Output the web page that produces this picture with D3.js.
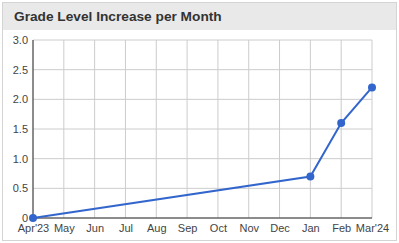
<!DOCTYPE html>
<html>
<head>
<meta charset="utf-8">
<script src="https://cdn.jsdelivr.net/npm/d3@7"></script>
<style>
  body { margin: 0; background: #fff; font-family: "Liberation Sans", Arial, sans-serif; }
  svg { display: block; }
</style>
</head>
<body>
<svg id="chart" width="399" height="243"></svg>
<script>
var title = "Grade Level Increase per Month";
var months = ["Apr'23", "May", "Jun", "Jul", "Aug", "Sep", "Oct", "Nov", "Dec", "Jan", "Feb", "Mar'24"];
var pointMonths = ["Apr'23", "Jan", "Feb", "Mar'24"];
var pointValues = [0, 0.7, 1.6, 2.2];
var yTicks = [0, 0.5, 1.0, 1.5, 2.0, 2.5, 3.0];

var svg = d3.select("#chart");
var margin = {top: 40, right: 27, bottom: 25, left: 33};
var w = 399 - margin.left - margin.right;
var h = 243 - margin.top - margin.bottom;

// panel + header
svg.append("rect").attr("x", 2.5).attr("y", 2.5).attr("width", 394).attr("height", 238)
   .attr("fill", "#fff").attr("stroke", "#d4d4d4");
svg.append("rect").attr("x", 3).attr("y", 3).attr("width", 393).attr("height", 27)
   .attr("fill", "#e9e9e9");
svg.append("text").attr("x", 14).attr("y", 21)
   .attr("font-size", 13.7).attr("font-weight", "bold").attr("fill", "#333")
   .text(title);

var x = d3.scalePoint().domain(months).range([0, w]);
var y = d3.scaleLinear().domain([0, 3]).range([h, 0]);

var g = svg.append("g").attr("transform", "translate(" + margin.left + "," + margin.top + ")");

// grid
g.selectAll(".vgrid").data(months).enter().append("line")
 .attr("x1", function(d) { return x(d); }).attr("x2", function(d) { return x(d); })
 .attr("y1", 0).attr("y2", h).attr("stroke", "#cccccc");
g.selectAll(".hgrid").data(yTicks).enter().append("line")
 .attr("x1", 0).attr("x2", w)
 .attr("y1", function(d) { return y(d); }).attr("y2", function(d) { return y(d); })
 .attr("stroke", "#cccccc");

// axes
var yAxis = g.append("g").call(d3.axisLeft(y).tickValues(yTicks).tickSize(0).tickPadding(5)
   .tickFormat(function(d) { return d === 0 ? "0" : d3.format(".1f")(d); }));
yAxis.select(".domain").remove();
yAxis.selectAll("text").attr("font-size", 11).attr("fill", "#444").attr("font-family", "Liberation Sans, Arial, sans-serif");

var xAxis = g.append("g").attr("transform", "translate(0," + h + ")")
   .call(d3.axisBottom(x).tickSize(0).tickPadding(6));
xAxis.select(".domain").remove();
xAxis.selectAll("text").attr("font-size", 11).attr("fill", "#444").attr("font-family", "Liberation Sans, Arial, sans-serif");

g.append("line").attr("x1", 0).attr("x2", 0).attr("y1", 0).attr("y2", h).attr("stroke", "#333");
g.append("line").attr("x1", 0).attr("x2", w).attr("y1", h).attr("y2", h).attr("stroke", "#333");

// line + points
var pts = pointMonths.map(function(m, i) { return {m: m, v: pointValues[i]}; });
var line = d3.line().x(function(d) { return x(d.m); }).y(function(d) { return y(d.v); });
g.append("path").datum(pts).attr("d", line).attr("fill", "none")
 .attr("stroke", "#3366cc").attr("stroke-width", 2);
g.selectAll(".pt").data(pts).enter().append("circle")
 .attr("cx", function(d) { return x(d.m); }).attr("cy", function(d) { return y(d.v); })
 .attr("r", 4).attr("fill", "#3366cc");
</script>
</body>
</html>
